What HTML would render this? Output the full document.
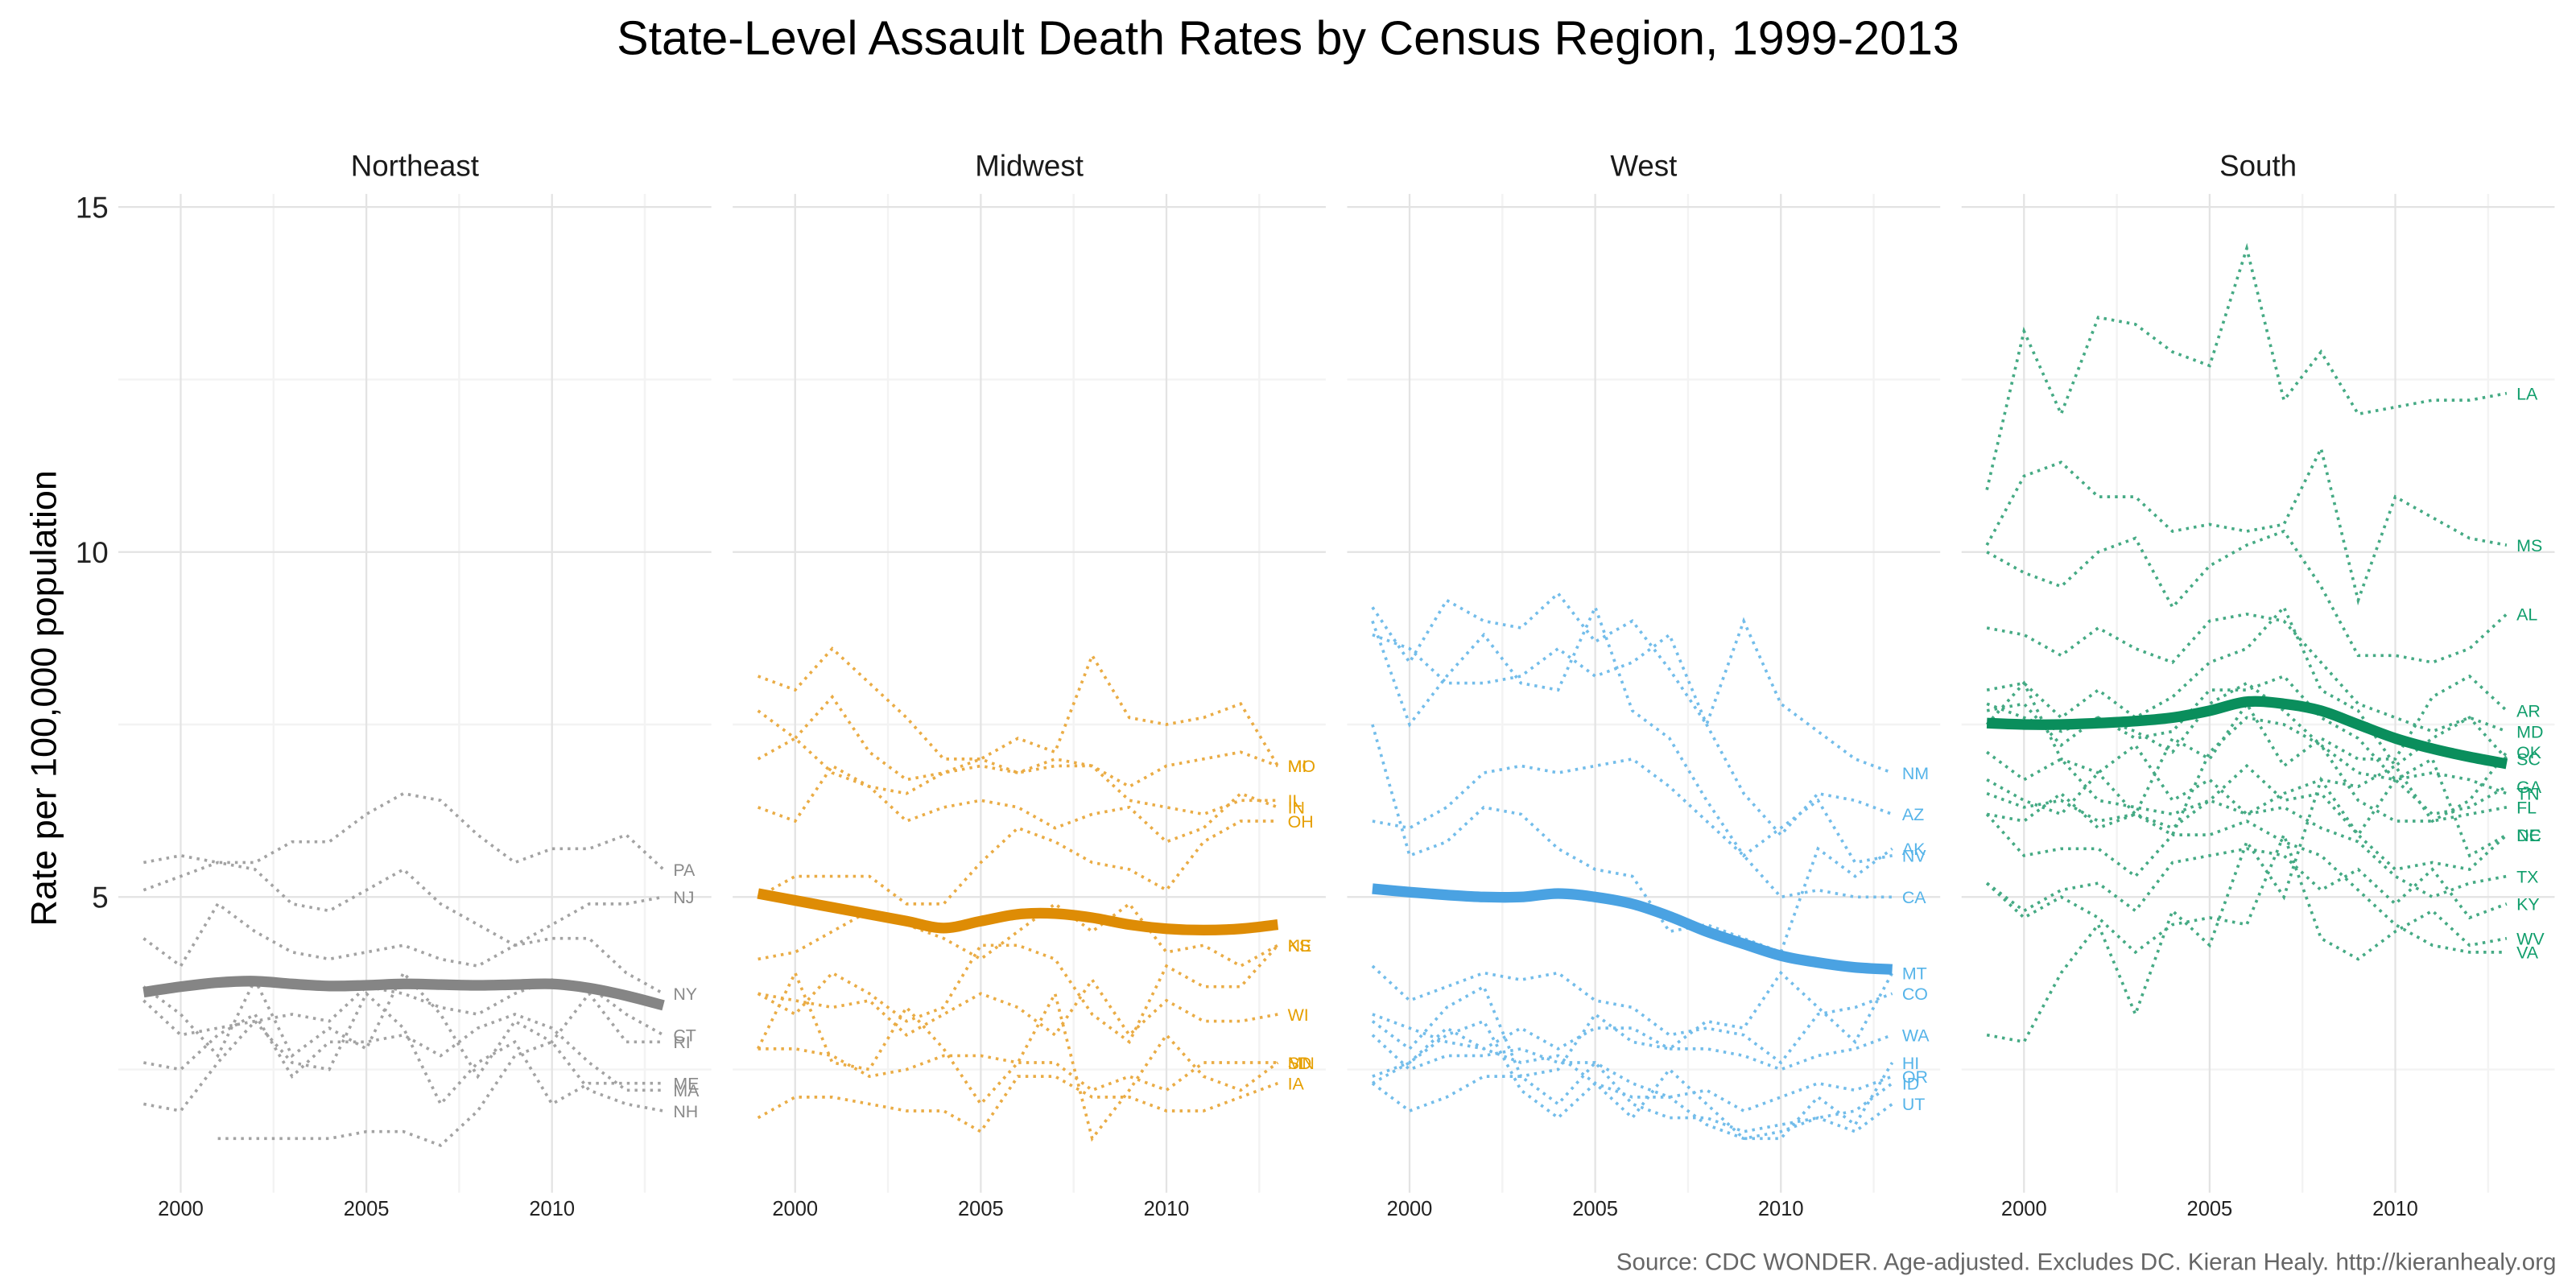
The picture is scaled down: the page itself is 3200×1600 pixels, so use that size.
<!DOCTYPE html>
<html><head><meta charset="utf-8">
<style>
html,body{margin:0;padding:0;background:#fff;}
svg{display:block;font-family:"Liberation Sans",Arial,sans-serif;}
</style></head>
<body>
<svg id="chart" width="3200" height="1600" viewBox="0 0 1568 784" xmlns="http://www.w3.org/2000/svg">
<text x="784" y="33" text-anchor="middle" font-size="29" fill="#000">State-Level Assault Death Rates by Census Region, 1999-2013</text>
<text transform="translate(34,425) rotate(-90)" text-anchor="middle" font-size="22" fill="#000">Rate per 100,000 population</text>
<text x="1556" y="773" text-anchor="end" font-size="14.5" fill="#666">Source: CDC WONDER. Age-adjusted. Excludes DC. Kieran Healy. http://kieranhealy.org</text>
<g id="plots"></g>
</svg>
<script>
const years = [1999,2000,2001,2002,2003,2004,2005,2006,2007,2008,2009,2010,2011,2012,2013];
const regions = ["Northeast","Midwest","West","South"];
const yTicks = [5,10,15];
const yMinor = [2.5,7.5,12.5];
const xTicks = [2000,2005,2010];
const xMinor = [2002.5,2007.5,2012.5];

const neStates = ["PA","NJ","NY","CT","RI","ME","MA","NH"];
const neValues = [
 [5.5,5.6,5.5,5.5,5.8,5.8,6.2,6.5,6.4,5.9,5.5,5.7,5.7,5.9,5.4],
 [5.1,5.3,5.5,5.4,4.9,4.8,5.1,5.4,4.9,4.6,4.3,4.6,4.9,4.9,5.0],
 [4.4,4.0,4.9,4.5,4.2,4.1,4.2,4.3,4.1,4.0,4.3,4.4,4.4,3.9,3.6],
 [3.5,3.0,3.1,3.2,3.3,3.2,3.7,3.6,3.4,3.3,3.6,3.8,3.7,3.3,3.0],
 [3.7,3.3,2.7,3.8,2.7,3.1,2.8,3.9,3.3,2.4,3.2,2.9,3.6,2.9,2.9],
 [2.0,1.9,2.6,3.2,2.6,2.5,3.6,3.1,2.0,2.6,2.9,2.0,2.3,2.3,2.3],
 [2.6,2.5,3.0,3.3,2.4,2.9,2.9,3.0,2.7,3.1,3.3,3.1,2.6,2.2,2.2],
 [null,null,1.5,1.5,1.5,1.5,1.6,1.6,1.4,1.9,2.7,2.9,2.2,2.0,1.9]
];
const neSmooth = [3.62,3.7,3.76,3.78,3.74,3.71,3.72,3.74,3.73,3.72,3.73,3.74,3.68,3.57,3.43];

const mwStates = ["MI","MO","IL","IN","OH","KS","NE","WI","MN","SD","IA"];
const mwValues = [
 [8.2,8.0,8.6,8.1,7.6,7.0,7.0,6.8,6.9,6.9,6.6,6.9,7.0,7.1,6.9],
 [7.7,7.3,7.9,7.1,6.7,6.8,7.0,7.3,7.1,8.5,7.6,7.5,7.6,7.8,6.9],
 [7.0,7.3,6.8,6.6,6.5,6.8,6.9,6.8,7.0,6.9,6.4,6.3,6.2,6.4,6.4],
 [6.3,6.1,6.9,6.6,6.1,6.3,6.4,6.3,6.0,6.2,6.3,5.8,6.0,6.5,6.3],
 [5.0,5.3,5.3,5.3,4.9,4.9,5.5,6.0,5.8,5.5,5.4,5.1,5.8,6.1,6.1],
 [4.1,4.2,4.5,4.8,4.6,4.4,4.1,4.5,4.9,4.5,4.9,4.2,4.3,4.0,4.3],
 [3.6,3.3,3.9,3.6,3.2,3.4,4.3,4.3,4.1,3.3,2.9,4.0,3.7,3.7,4.3],
 [3.6,3.5,3.4,3.5,3.0,3.3,3.6,3.4,3.0,3.8,3.0,3.5,3.2,3.2,3.3],
 [2.8,2.8,2.7,2.4,2.5,2.7,2.7,2.6,2.6,2.2,2.4,2.2,2.6,2.6,2.6],
 [2.8,3.9,2.6,2.5,3.4,2.8,2.0,2.6,3.6,1.5,2.2,3.0,2.4,2.2,2.6],
 [1.8,2.1,2.1,2.0,1.9,1.9,1.6,2.4,2.4,2.1,2.1,1.9,1.9,2.1,2.3]
];
const mwSmooth = [5.05,4.95,4.85,4.75,4.65,4.55,4.65,4.75,4.76,4.7,4.6,4.54,4.52,4.54,4.6];

const wStates = ["NM","AZ","NV","CA","AK","MT","CO","WA","HI","OR","ID","UT"];
const wValues = [
 [9.2,8.4,9.3,9.0,8.9,9.4,8.7,9.0,8.3,7.5,9.0,7.8,7.4,7.0,6.8],
 [8.8,8.6,8.1,8.1,8.2,8.6,8.2,8.4,8.8,7.5,6.5,5.9,6.5,6.4,6.2],
 [9.0,7.5,8.2,8.8,8.1,8.0,9.2,7.7,7.3,6.4,5.6,6.0,6.4,5.5,5.6],
 [6.1,6.0,6.3,6.8,6.9,6.8,6.9,7.0,6.6,6.1,5.6,5.0,5.1,5.0,5.0],
 [7.5,5.6,5.8,6.3,6.2,5.7,5.4,5.3,4.5,4.6,4.4,4.2,5.7,5.3,5.7],
 [3.2,2.8,3.4,3.7,2.4,2.5,3.3,2.9,2.8,3.2,3.1,3.9,3.4,2.9,3.9],
 [4.0,3.5,3.7,3.9,3.8,3.9,3.5,3.4,3.0,3.1,3.0,2.6,3.3,3.4,3.6],
 [3.3,3.1,2.9,2.8,3.1,2.8,3.1,3.1,2.8,2.8,2.7,2.5,2.7,2.8,3.0],
 [2.3,2.6,3.0,3.2,2.2,1.8,2.3,1.8,2.5,2.0,1.5,1.5,2.1,1.7,2.6],
 [3.0,2.5,2.7,2.7,2.8,2.6,2.6,2.3,2.1,2.2,1.9,2.1,2.3,2.2,2.4],
 [2.3,1.9,2.1,2.4,2.4,2.0,2.6,2.0,1.8,1.8,1.6,1.7,1.8,1.9,2.3],
 [2.4,2.6,3.1,2.8,2.6,2.7,2.3,2.1,2.1,1.7,1.5,1.6,1.8,1.6,2.0]
];
const wSmooth = [5.12,5.07,5.03,5.0,5.0,5.05,5.0,4.9,4.72,4.5,4.32,4.15,4.05,3.98,3.95];

const sStates = ["LA","MS","AL","MD","SC","TN","AR","OK","GA","FL","NC","TX","KY","WV","VA","DE"];
const sValues = [
 [10.9,13.2,12.0,13.4,13.3,12.9,12.7,14.4,12.2,12.9,12.0,12.1,12.2,12.2,12.3],
 [10.1,11.1,11.3,10.8,10.8,10.3,10.4,10.3,10.4,11.5,9.3,10.8,10.5,10.2,10.1],
 [10.0,9.7,9.5,10.0,10.2,9.2,9.8,10.1,10.3,9.5,8.5,8.5,8.4,8.6,9.1],
 [8.9,8.8,8.5,8.9,8.6,8.4,9.0,9.1,9.0,8.4,7.8,7.6,7.4,7.6,7.4],
 [8.0,8.1,7.6,8.0,7.6,7.9,8.4,8.6,9.2,8.0,7.7,6.9,7.3,7.6,7.0],
 [7.7,7.8,7.2,7.6,7.3,7.4,8.0,8.0,8.2,7.6,7.3,6.7,6.8,6.7,6.5],
 [7.5,8.1,7.0,6.8,6.2,7.3,7.0,7.8,6.9,7.3,7.0,7.0,7.9,8.2,7.7],
 [6.7,6.4,6.2,6.8,7.2,6.4,6.7,6.2,6.5,6.7,6.6,6.9,6.1,6.4,7.1],
 [7.8,7.6,7.4,7.6,7.4,7.1,7.8,8.1,7.7,7.2,6.8,6.7,6.2,6.3,6.6],
 [6.5,6.3,6.4,6.1,6.2,5.9,7.1,7.6,7.5,7.2,6.4,6.1,6.1,6.2,6.3],
 [7.1,6.7,7.0,6.4,6.3,6.2,6.4,6.9,6.4,6.5,5.9,5.4,5.5,5.4,5.9],
 [6.2,6.1,6.5,6.0,6.2,6.0,6.4,6.2,6.3,6.0,5.8,5.3,5.0,5.2,5.3],
 [5.2,4.8,5.1,5.2,4.8,5.5,5.6,5.7,5.6,5.1,5.4,4.9,5.4,4.7,4.9],
 [5.2,4.7,5.0,4.7,4.2,4.6,4.7,4.6,5.9,4.4,4.1,4.5,4.8,4.3,4.4],
 [6.2,5.6,5.7,5.7,5.3,5.9,5.9,6.1,5.8,5.6,5.1,4.6,4.3,4.2,4.2],
 [3.0,2.9,3.9,4.6,3.3,4.8,4.3,5.8,5.0,6.7,5.9,6.7,7.0,5.6,5.9]
];
const sSmooth = [7.52,7.5,7.5,7.52,7.55,7.6,7.7,7.83,7.8,7.7,7.5,7.3,7.15,7.03,6.93];

const NS = "http://www.w3.org/2000/svg";
const panels = [
 {states:neStates, values:neValues, smooth:neSmooth, dot:"#a3a3a3", line:"#858585", lab:"#8a8a8a"},
 {states:mwStates, values:mwValues, smooth:mwSmooth, dot:"#EAAC45", line:"#DE8C05", lab:"#E69F00"},
 {states:wStates, values:wValues, smooth:wSmooth, dot:"#73BDEA", line:"#4AA2E2", lab:"#56B4E9"},
 {states:sStates, values:sValues, smooth:sSmooth, dot:"#45AA84", line:"#0A8E5C", lab:"#119E6C"}
];
const PW = 361, PGAP = 374, PL0 = 72, PT = 118, PB = 726;
function yScale(v){ return 756 - 42*v; }
function xScale(i, yr){ return 110 + PGAP*i + (yr-2000)*22.6; }
function mk(tag, attrs, parent){
  const e = document.createElementNS(NS, tag);
  for (const k in attrs) e.setAttribute(k, attrs[k]);
  parent.appendChild(e); return e;
}
function curve(pts){
  let d = "M"+pts[0][0]+","+pts[0][1];
  for (let i=0;i<pts.length-1;i++){
    const p0=pts[Math.max(0,i-1)], p1=pts[i], p2=pts[i+1], p3=pts[Math.min(pts.length-1,i+2)];
    const c1=[p1[0]+(p2[0]-p0[0])/6, p1[1]+(p2[1]-p0[1])/6];
    const c2=[p2[0]-(p3[0]-p1[0])/6, p2[1]-(p3[1]-p1[1])/6];
    d += " C"+c1[0]+","+c1[1]+" "+c2[0]+","+c2[1]+" "+p2[0]+","+p2[1];
  }
  return d;
}
const root = document.getElementById("plots");
panels.forEach((p, i) => {
  const g = mk("g", {}, root);
  
  
  const left = PL0 + PGAP*i, right = left + PW;
  const strip = mk("text", {x:left+PW/2, y:107, "text-anchor":"middle", "font-size":18, fill:"#1a1a1a"}, g);
  strip.textContent = regions[i];
  
  
  yMinor.forEach(v => { mk("line", {x1:left, x2:right, y1:yScale(v), y2:yScale(v), stroke:"#f3f3f3", "stroke-width":1.2}, g); });
  xMinor.forEach(v => { mk("line", {x1:xScale(i,v), x2:xScale(i,v), y1:PT, y2:PB, stroke:"#f3f3f3", "stroke-width":1.2}, g); });
  yTicks.forEach(v => {
    const gl = mk("line", {x1:left, x2:right, y1:yScale(v), y2:yScale(v), stroke:"#e3e3e3", "stroke-width":1.1}, g);
    
    
  });
  xTicks.forEach(v => {
    const gl = mk("line", {x1:xScale(i,v), x2:xScale(i,v), y1:PT, y2:PB, stroke:"#e3e3e3", "stroke-width":1.1}, g);
    
    
    const t = mk("text", {x:xScale(i,v), y:740, "text-anchor":"middle", "font-size":12.5, fill:"#222"}, g);
    t.textContent = v;
    
    
  });
  if (i === 0) {
    yTicks.forEach(v => {
      const t = mk("text", {x:66, y:yScale(v)+6.5, "text-anchor":"end", "font-size":18, fill:"#222"}, g);
      t.textContent = v;
      
      
    });
  }
  p.values.forEach((vals, s) => {
    const pts = [];
    vals.forEach((v, k) => { if (v !== null) pts.push(xScale(i, years[k]) + "," + yScale(v)); });
    const path = mk("polyline", {points:pts.join(" "), fill:"none", stroke:p.dot, "stroke-width":1.8, "stroke-dasharray":"1.7 3", "stroke-linecap":"butt"}, g);
    
    
    const last = vals[vals.length-1];
    const lab = mk("text", {x:xScale(i, 2013)+6, y:yScale(last)+3.8, "font-size":10.5, fill:p.lab}, g);
    lab.textContent = p.states[s];
    
    
  });
  const spts = p.smooth.map((v, k) => [xScale(i, years[k]), yScale(v)]);
  const sm = mk("path", {d:curve(spts), fill:"none", stroke:p.line, "stroke-width":6.5}, g);
  
  
});
</script>
</body></html>
